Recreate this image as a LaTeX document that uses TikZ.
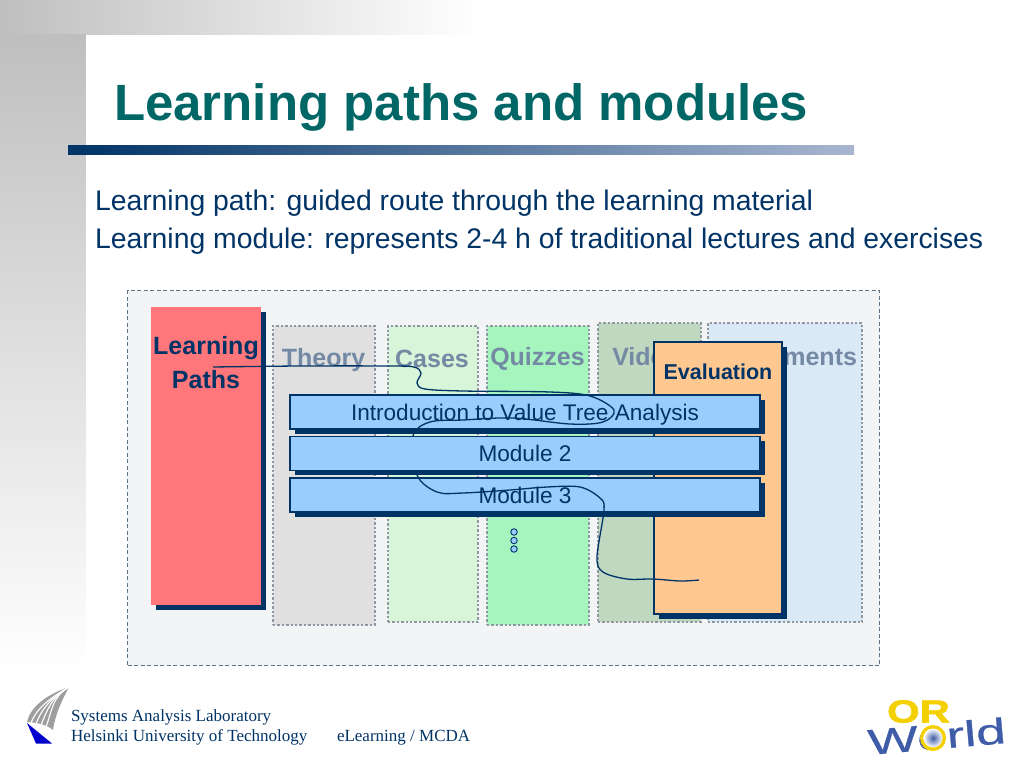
\documentclass[tikz,border=0pt]{standalone}
\usepackage{fontspec}
\usepackage{graphicx}
\setmainfont{Liberation Sans}
\newfontfamily\serifface{Liberation Serif}
\newfontfamily\orface[FakeBold=1.5]{Liberation Sans Bold}
\newfontfamily\worldface[FakeBold=0.6]{Liberation Sans}
\usetikzlibrary{shadows}
\definecolor{navy}{HTML}{003366}
\definecolor{teal}{HTML}{006666}
\definecolor{sidegray}{HTML}{BFBFBF}
\definecolor{barend}{HTML}{A8B6D0}
\definecolor{panel}{HTML}{F3F4F5}
\definecolor{framecol}{HTML}{5F7488}
\definecolor{dotcol}{HTML}{8F98A2}
\definecolor{fadedtxt}{HTML}{7489A3}
\definecolor{modfill}{HTML}{99CCFF}
\definecolor{orgold}{HTML}{F5D000}
\definecolor{orblue}{HTML}{3F5CA8}
\definecolor{ctheory}{HTML}{E0E0E0}
\definecolor{ccases}{HTML}{D9F5D9}
\definecolor{cquiz}{HTML}{A6F5BF}
\definecolor{cvideo}{HTML}{C0D8C0}
\definecolor{cassign}{HTML}{D9E9F5}
\definecolor{cred}{HTML}{FF777A}
\definecolor{ceval}{HTML}{FFC890}
\newcommand{\fsz}[1]{\fontsize{#1}{#1}\selectfont}
\tikzset{
  x=1pt,y=-1pt,
  txt/.style={inner sep=0pt,outer sep=0pt},
  bodytxt/.style={txt,anchor=base west,text=navy,font=\fsz{28.35}},
  foot/.style={txt,anchor=base west,text=navy,font=\serifface\fsz{17}},
  column/.style={draw=dotcol,line width=2.4pt,dash pattern=on 2.4pt off 2pt,inner sep=0pt,outer sep=0pt},
  coltxt/.style={txt,anchor=base,text=fadedtxt,font=\bfseries\fsz{25}},
  pathtxt/.style={txt,anchor=base,text=navy,font=\bfseries\fsz{25}},
  shadowbox/.style={draw=navy,line width=1.1pt,inner sep=0pt,outer sep=0pt,
    copy shadow={shadow xshift=4.5pt,shadow yshift=-4.5pt,draw=none,fill=navy,opacity=1}},
  modbox/.style={shadowbox,fill=modfill,minimum width=470pt,minimum height=34pt,text=navy,font=\fsz{22.6},text height=18pt,text depth=2pt},
  route/.style={draw=navy,line width=1.3pt,line join=round},
  ell/.style={circle,draw=navy,fill=modfill,line width=.9pt,minimum size=6.5pt,inner sep=0pt},
}
\begin{document}
\begin{tikzpicture}
\useasboundingbox (0,0) rectangle (1024,768);
\fill[white] (0,0) rectangle (1024,768);
% background
\shade[left color=sidegray,right color=white] (0,0) rectangle (480,35);
\shade[top color=sidegray,bottom color=white] (0,35) rectangle (86,672);
\fill[white] (86,35) rectangle (1024,672);
% header
\node[txt,anchor=base west,text=teal,font=\bfseries\fsz{51}] (title) at (114,120) {Learning paths and modules};
\shade[left color=navy,right color=barend] (68,145) rectangle (854,154);
\node[bodytxt] (l1) at (95,210) {Learning path: guided route through the learning material};
\node[bodytxt] (l2) at (95,248) {Learning module: represents 2-4 h of traditional lectures and exercises};
% panel
\node[draw=framecol,line width=1.3pt,dash pattern=on 4pt off 2.5pt,fill=panel,minimum width=752pt,minimum height=375pt,inner sep=0pt] (panel) at (503.5,478) {};
% columns
\node[column,fill=ctheory,minimum width=102pt,minimum height=299pt] (theory) at (324,475.5) {};
\node[column,fill=ccases,minimum width=90pt,minimum height=296pt] (cases) at (433,474) {};
\node[column,fill=cquiz,minimum width=102pt,minimum height=299pt] (quizzes) at (538,475.5) {};
\node[column,fill=cvideo,minimum width=103pt,minimum height=299pt] (videos) at (649.5,472.5) {};
\node[column,fill=cassign,minimum width=154pt,minimum height=299pt] (assign) at (785,472.5) {};
\node[coltxt] (ttheory) at (323.5,366) {Theory};
\node[coltxt] (tcases) at (432,367) {Cases};
\node[coltxt] (tquiz) at (537.5,365) {Quizzes};
\node[coltxt] (tvid) at (653,365) {Videos};
\node[coltxt] (tass) at (778.5,365) {Assignments};
% learning paths
\node[shadowbox,draw=none,fill=cred,minimum width=110pt,minimum height=298pt] (paths) at (206,456) {};
\node[pathtxt] (tlearn) at (206,354) {Learning};
\node[pathtxt] (tpaths) at (206,388) {Paths};
% evaluation
\node[shadowbox,fill=ceval,minimum width=128pt,minimum height=272pt] (eval) at (718,478) {};
\node[txt,anchor=base,text=navy,font=\bfseries\fsz{21.5}] (teval) at (718,379) {Evaluation};
% modules
\node[modbox] (m1) at (525,412) {Introduction to Value Tree Analysis};
\node[modbox] (m3) at (525,495) {Module 3};
% route
\coordinate (rs) at (213,367);
\coordinate (re) at (699,580);
\draw[route] plot[smooth,tension=.55] coordinates {(rs) (300,366) (390,366) (414,367) (421,373) (417,383) (425,389) (463,391) (550,392) (590,396) (614,410) (603,422) (570,424) (513,418) (463,420) (430,422) (413,436) (417,475) (437,492) (463,493) (510,490) (547,487) (580,487) (600,498) (604,510) (597,557) (603,572) (627,579) (653,579) (680,581) (re)};
\node[modbox] (m2) at (525,453.5) {Module 2};
% ellipsis
\node[ell] (d1) at (514,532) {};
\node[ell] (d2) at (514,540.5) {};
\node[ell] (d3) at (514,549) {};
% footer
\node[foot] (f1) at (71,721) {Systems Analysis Laboratory};
\node[foot] (f2) at (71,741.5) {Helsinki University of Technology};
\node[foot] (f3) at (337,741.5) {eLearning / MCDA};
% university logo
\fill[black!38] (69,687) .. controls (45,695) and (30,708) .. (27,722) .. controls (35,722) and (48,725) .. (53,730) .. controls (55,715) and (62,700) .. (69,687) -- cycle;
\foreach \a/\b in {31/723,36/724,41/725.5,46/727}{
  \draw[white,line width=1.1pt] (\a,\b) .. controls (\a+6,\b-16) and (52,697) .. (69,687);
}
\fill[blue!80!black] (27,723) -- (52,743.5) -- (36,743.5) -- cycle;
% OR World logo
\node[txt,text=orgold,font=\orface\fsz{32}] (orw) at (918.5,711.5) {\scalebox{1.31}[1]{OR}};
\node[txt,anchor=base west,text=orblue,font=\worldface\fsz{36},rotate=5] (world) at (869,755) {\scalebox{1.48}[1]{World}};
\fill[orgold] (933,738) circle (13);
\shade[inner color=orblue,outer color=white] (933,738) circle (9.5);
\end{tikzpicture}
\end{document}
